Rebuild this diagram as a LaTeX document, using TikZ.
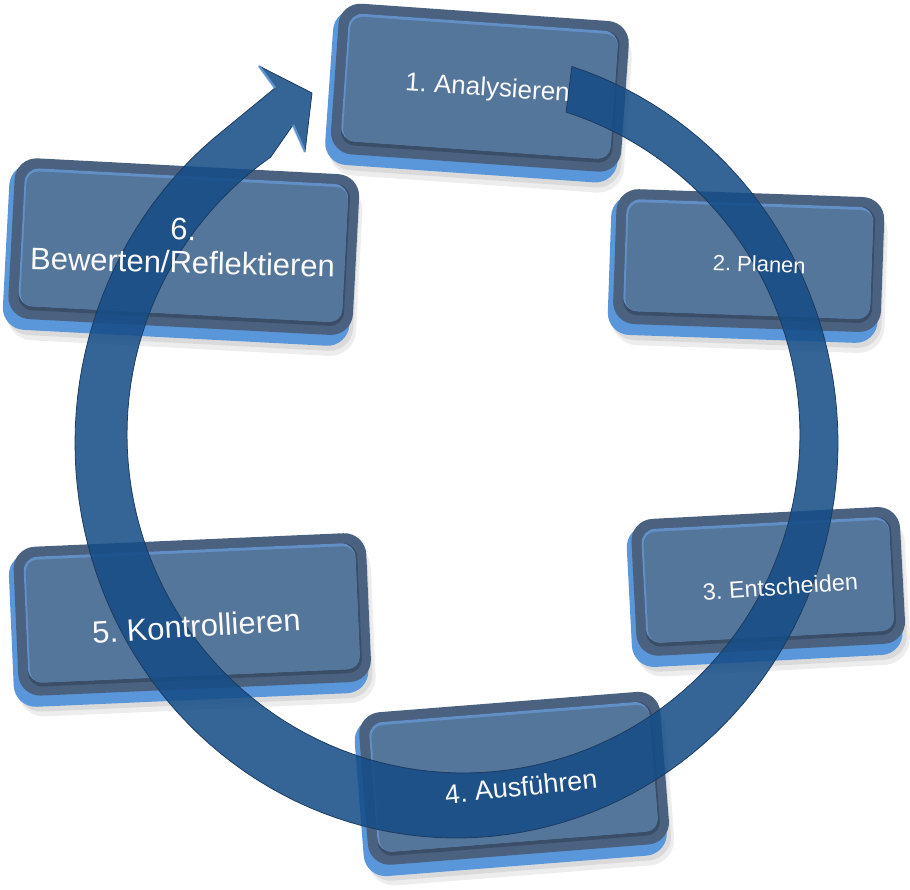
\documentclass[tikz,border=0pt]{standalone}
\usepackage{fontspec}
\setmainfont{Liberation Sans}
\frenchspacing
\definecolor{sidecol}{RGB}{90,150,218}
\definecolor{rimcol}{RGB}{74,98,128}
\definecolor{innerdark}{RGB}{58,78,104}
\definecolor{hilite}{RGB}{108,160,222}
\definecolor{facecol}{RGB}{85,118,155}
\definecolor{bandcol}{RGB}{20,76,134}
\definecolor{bandline}{RGB}{28,60,98}
\definecolor{txtcol}{RGB}{250,250,250}
\newcommand\mytile[5]{%
\begin{scope}[shift={(#1,#2)},rotate=#5]
\pgfmathsetmacro\tileW{#3/2}\pgfmathsetmacro\tileH{#4/2}
\fill[black,opacity=0.07,rounded corners=26pt] ({-\tileW+4},{-\tileH+10}) rectangle ({\tileW+4},{\tileH+10});
\fill[black,opacity=0.08,rounded corners=24pt] ({-\tileW+3},{-\tileH+8}) rectangle ({\tileW+1},{\tileH+5});
\fill[sidecol,rounded corners=22pt] ({-\tileW},{-\tileH+6}) rectangle ({\tileW-3},{\tileH});
\fill[rimcol,rounded corners=22pt] ({-\tileW+5},{-\tileH}) rectangle ({\tileW},{\tileH-11});
\fill[innerdark,rounded corners=14pt] ({-\tileW+15},{-\tileH+10}) rectangle ({\tileW-9},{\tileH-20});
\fill[hilite,opacity=0.8,rounded corners=14pt] ({-\tileW+15},{-\tileH+10}) rectangle ({\tileW-11},{\tileH-24});
\fill[facecol,rounded corners=12pt] ({-\tileW+17},{-\tileH+13}) rectangle ({\tileW-11},{\tileH-24});
\end{scope}}
\begin{document}
\begin{tikzpicture}[x=1pt,y=-1pt,
  lbl/.style={text=txtcol,inner sep=0pt,anchor=base},
  band/.style={fill=bandcol,fill opacity=0.86,draw=bandline,line width=0.8pt,line join=round}]
\useasboundingbox (0,0) rectangle (910,890);
% tiles
\mytile{477}{93}{296}{162}{-4}
\mytile{746}{266}{273}{146}{-2}
\mytile{766}{587}{274}{148}{3}
\mytile{512}{784}{307}{164}{4.5}
\mytile{190}{620}{358}{160}{2.5}
\mytile{181}{252}{350}{172}{-3}
% circular arrow
\coordinate (head1) at (259,66);
\coordinate (tip) at (312,93);
\coordinate (head2) at (305,152);
\path[band]
  plot[domain=72.4:-230.4,samples=140] ({456.5+381.5*cos(\x)},{443-395*sin(\x)})
  -- (275,88) -- (head1) -- (tip) -- (head2) -- (293,125) -- (270.5,157.3)
  -- plot[domain=-235:72.25,samples=140] ({463.5+336.5*cos(\x)},{434.5-338.5*sin(\x)})
  -- cycle;
\draw[hilite,line width=2.5pt,opacity=0.8] (head1) -- (275,88);
\draw[hilite,line width=2.5pt,opacity=0.8] (293,125) -- (head2);
% labels
\node[lbl,rotate=-4,font=\fontsize{26}{30}\selectfont] (t1) at (487,96) {1. Analysieren};
\node[lbl,rotate=-2,font=\fontsize{22}{26}\selectfont] (t2) at (759,272) {2. Planen};
\node[lbl,rotate=4,font=\fontsize{23.5}{28}\selectfont] (t3) at (781,595) {3. Entscheiden};
\node[lbl,rotate=6,font=\fontsize{27}{32}\selectfont] (t4) at (522,796) {4. Ausführen};
\node[lbl,rotate=3.5,font=\fontsize{31}{36}\selectfont] (t5) at (197,637) {5. Kontrollieren};
\node[text=txtcol,inner sep=0pt,align=center,rotate=-1.5,font=\fontsize{31}{33}\selectfont] (t6) at (183,246) {6.\\Bewerten/Reflektieren};
\end{tikzpicture}
\end{document}
